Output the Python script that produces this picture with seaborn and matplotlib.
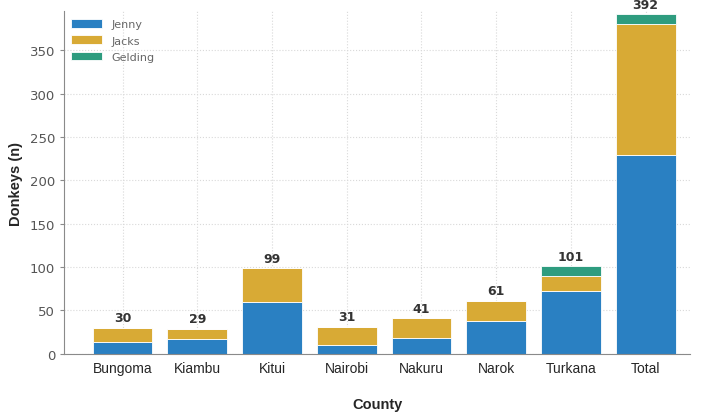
import pandas as pd
import matplotlib.pyplot as plt
import seaborn as sns

# donkey counts by county and sex class
counties = ['Bungoma', 'Kiambu', 'Kitui', 'Nairobi', 'Nakuru', 'Narok', 'Turkana', 'Total']
jenny = [14, 17, 60, 10, 18, 38, 72, 229]
jacks = [16, 12, 39, 21, 23, 23, 18, 152]
gelding = [0, 0, 0, 0, 0, 0, 11, 11]
totals = [30, 29, 99, 31, 41, 61, 101, 392]

rows = []
for i, c in enumerate(counties):
    rows.append((c, 'Jenny', jenny[i]))
    rows.append((c, 'Jacks', jacks[i]))
    rows.append((c, 'Gelding', gelding[i]))
df = pd.DataFrame(rows, columns=['county', 'sex', 'n'])
df['county'] = pd.Categorical(df['county'], categories=counties, ordered=True)

sns.set_style('whitegrid', {'grid.linestyle': ':', 'grid.color': '#d9d9d9',
                            'axes.edgecolor': '#8a8a8a'})
plt.rcParams['font.family'] = ['DejaVu Sans']

fig, ax = plt.subplots(figsize=(7.06, 4.14), dpi=100)
palette = {'Jenny': '#2a80c2', 'Jacks': '#d8aa35', 'Gelding': '#2e9c7f'}
sns.histplot(data=df, x='county', weights='n', hue='sex', multiple='stack',
             hue_order=['Gelding', 'Jacks', 'Jenny'], palette=palette,
             shrink=0.8, discrete=True, alpha=1, edgecolor='white',
             linewidth=0.6, ax=ax)

for i, t in enumerate(totals):
    ax.text(i, t + 4, str(t), ha='center', va='bottom', fontsize=9,
            fontweight='bold', color='#333333')

ax.set_xlim(-0.79, 7.6)
ax.set_ylim(0, 395)
ax.set_yticks(range(0, 351, 50))
ax.set_xlabel('County', fontsize=10.5, fontweight='bold', labelpad=16,
              family='Liberation Sans')
ax.set_ylabel('Donkeys (n)', fontsize=10.5, fontweight='bold', labelpad=5,
              family='Liberation Sans')
ax.tick_params(axis='y', labelsize=9.5, labelcolor='#555555', length=3,
               color='#8a8a8a', left=True, pad=3)
ax.tick_params(axis='x', labelsize=10, length=0, pad=5)
for lab in ax.get_xticklabels():
    lab.set_family('Liberation Sans')
for s in ['top', 'right']:
    ax.spines[s].set_visible(False)

leg = ax.get_legend()
handles = leg.legend_handles[::-1]
labels = [t.get_text() for t in leg.get_texts()][::-1]
leg.remove()
lg = ax.legend(handles, labels, loc='upper left', frameon=False, fontsize=8,
               handlelength=2.8, handleheight=0.8, labelspacing=0.55,
               borderaxespad=0.3)
for t in lg.get_texts():
    t.set_color('#666666')

fig.subplots_adjust(left=0.09, right=0.978, top=0.97, bottom=0.143)
fig.savefig('out.png')
